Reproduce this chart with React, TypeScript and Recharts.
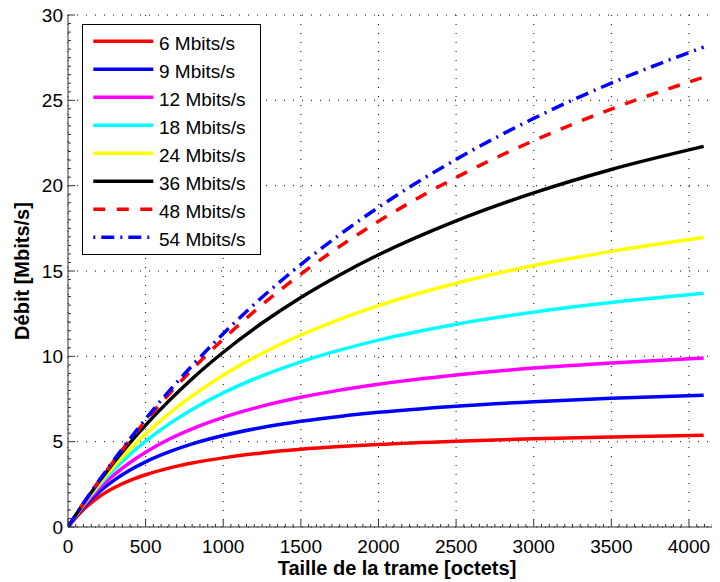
import React from 'react';
import { LineChart, Line, XAxis, YAxis, CartesianGrid } from 'recharts';

// Frame size [octets]
const frameSizes = [0, 100, 200, 300, 400, 500, 650, 800, 1000, 1250, 1500, 1750, 2000, 2500, 3000, 3500, 4095];

// Throughput [Mbits/s] for each PHY rate
const rate6 = [0, 1.03, 1.77, 2.31, 2.73, 3.06, 3.45, 3.75, 4.05, 4.34, 4.55, 4.71, 4.84, 5.03, 5.17, 5.28, 5.37];
const rate9 = [0, 1.16, 2.05, 2.76, 3.34, 3.82, 4.4, 4.87, 5.36, 5.83, 6.19, 6.48, 6.72, 7.08, 7.34, 7.54, 7.72];
const rate12 = [0, 1.24, 2.25, 3.08, 3.78, 4.38, 5.14, 5.75, 6.42, 7.08, 7.6, 8.02, 8.37, 8.91, 9.31, 9.61, 9.9];
const rate18 = [0, 1.3, 2.42, 3.4, 4.26, 5.03, 6.03, 6.89, 7.86, 8.86, 9.68, 10.36, 10.95, 11.88, 12.59, 13.15, 13.69];
const rate24 = [0, 1.33, 2.53, 3.6, 4.57, 5.45, 6.64, 7.68, 8.89, 10.17, 11.25, 12.17, 12.97, 14.28, 15.32, 16.15, 16.96];
const rate36 = [0, 1.38, 2.65, 3.84, 4.94, 5.97, 7.39, 8.69, 10.24, 11.95, 13.45, 14.77, 15.95, 17.94, 19.58, 20.95, 22.3];
const rate48 = [0, 1.39, 2.7, 3.93, 5.11, 6.22, 7.78, 9.23, 11.01, 13.02, 14.82, 16.44, 17.91, 20.48, 22.64, 24.49, 26.36];
const rate54 = [0, 1.4, 2.72, 3.98, 5.18, 6.33, 7.95, 9.46, 11.33, 13.46, 15.38, 17.13, 18.73, 21.54, 23.94, 26.01, 28.12];

const seriesNames = ['6 Mbits/s', '9 Mbits/s', '12 Mbits/s', '18 Mbits/s', '24 Mbits/s', '36 Mbits/s', '48 Mbits/s', '54 Mbits/s'];
const seriesValues = [rate6, rate9, rate12, rate18, rate24, rate36, rate48, rate54];

const xMajorTicks = [0, 500, 1000, 1500, 2000, 2500, 3000, 3500, 4000];
const yMajorTicks = [0, 5, 10, 15, 20, 25, 30];
const xTicks = Array.from({ length: 85 }, (_, i) => i * 50);
const yTicks = Array.from({ length: 61 }, (_, i) => i * 0.5);

const xTitle = 'Taille de la trame [octets]';
const yTitle = 'Débit [Mbits/s]';

const styles = [
  { color: '#ff0000', dash: undefined, legendDash: undefined, legendOffset: 0 },
  { color: '#0000ff', dash: undefined, legendDash: undefined, legendOffset: 0 },
  { color: '#ff00ff', dash: undefined, legendDash: undefined, legendOffset: 0 },
  { color: '#00ffff', dash: undefined, legendDash: undefined, legendOffset: 0 },
  { color: '#ffff00', dash: undefined, legendDash: undefined, legendOffset: 0 },
  { color: '#000000', dash: undefined, legendDash: undefined, legendOffset: 0 },
  { color: '#ff0000', dash: '12 11', legendDash: '12 11.5', legendOffset: 0 },
  { color: '#0000ff', dash: '13 6 2 6', legendDash: '13 6 2 6', legendOffset: 19 },
];

const keys = seriesNames.map((_, i) => 's' + i);
const data = frameSizes.map((x, i) => {
  const row: any = { x };
  seriesValues.forEach((arr, k) => {
    row[keys[k]] = arr[i];
  });
  return row;
});

const FONT = "'Liberation Sans', Arial, Helvetica, sans-serif";

const XTick = (props: any) => {
  const { x, y, payload } = props;
  const v = payload.value;
  const major = xMajorTicks.includes(v);
  return (
    <g>
      <line x1={x} y1={y} x2={x} y2={y - (major ? 7 : 3)} stroke="#333" strokeWidth={1} />
      {major && (
        <text x={x} y={y + 26} textAnchor="middle" fontSize={19} fill="#000" fontFamily={FONT}>
          {v}
        </text>
      )}
    </g>
  );
};

const YTick = (props: any) => {
  const { x, y, payload } = props;
  const v = payload.value;
  const major = yMajorTicks.includes(v);
  return (
    <g>
      <line x1={x} y1={y} x2={x + (major ? 7 : 3)} y2={y} stroke="#333" strokeWidth={1} />
      {major && (
        <text x={x - 5} y={y} textAnchor="end" dominantBaseline="central" fontSize={19} fill="#000" fontFamily={FONT}>
          {v}
        </text>
      )}
    </g>
  );
};

export default function App() {
  return (
    <div style={{ position: 'relative', width: 712, height: 574, fontFamily: FONT }}>
      <LineChart
        width={712}
        height={574}
        data={data}
        margin={{ top: 7, right: 0, bottom: 0, left: 0 }}
        style={{ overflow: 'visible' }}
      >
        <CartesianGrid
          horizontalValues={yMajorTicks}
          verticalValues={xMajorTicks}
          stroke="#000"
          strokeDasharray="1 8"
          strokeWidth={1}
        />
        <XAxis
          dataKey="x"
          type="number"
          domain={[0, 4200]}
          ticks={xTicks}
          interval={0}
          tick={(p: any) => <XTick {...p} />}
          tickLine={false}
          tickSize={0}
          tickMargin={0}
          axisLine={{ stroke: '#333' }}
          height={55}
          allowDataOverflow
          label={{
            value: xTitle,
            position: 'insideBottom',
            offset: 7,
            dx: 3,
            fontSize: 20,
            fontWeight: 'bold',
            fill: '#000',
          }}
        />
        <YAxis
          type="number"
          domain={[0, 30]}
          ticks={yTicks}
          interval={0}
          tick={(p: any) => <YTick {...p} />}
          tickLine={false}
          tickSize={0}
          tickMargin={0}
          axisLine={{ stroke: '#333' }}
          width={60}
          allowDataOverflow
          label={{
            value: yTitle,
            angle: -90,
            position: 'insideLeft',
            offset: 14,
            fontSize: 20,
            fontWeight: 'bold',
            fill: '#000',
            style: { textAnchor: 'middle' },
          }}
        />
        {keys.map((k, i) => (
          <Line
            key={k}
            dataKey={k}
            type="monotone"
            stroke={styles[i].color}
            strokeWidth={3.5}
            strokeDasharray={styles[i].dash}
            dot={false}
            activeDot={false}
            isAnimationActive={false}
          />
        ))}
      </LineChart>
      <svg style={{ position: 'absolute', left: 74, top: 16 }} width={180} height={232}>
        <rect x={0.5} y={0.5} width={178} height={230} fill="#fff" stroke="#000" strokeWidth={1} />
        {seriesNames.map((name, i) => (
          <g key={name}>
            <line
              x1={11.3}
              x2={71.3}
              y1={17.3 + 28 * i}
              y2={17.3 + 28 * i}
              stroke={styles[i].color}
              strokeWidth={3.5}
              strokeDasharray={styles[i].legendDash}
              strokeDashoffset={styles[i].legendOffset}
            />
            <text x={77} y={26.3 + 28 * i} fontSize={19} fill="#000" fontFamily={FONT}>
              {name}
            </text>
          </g>
        ))}
      </svg>
    </div>
  );
}
